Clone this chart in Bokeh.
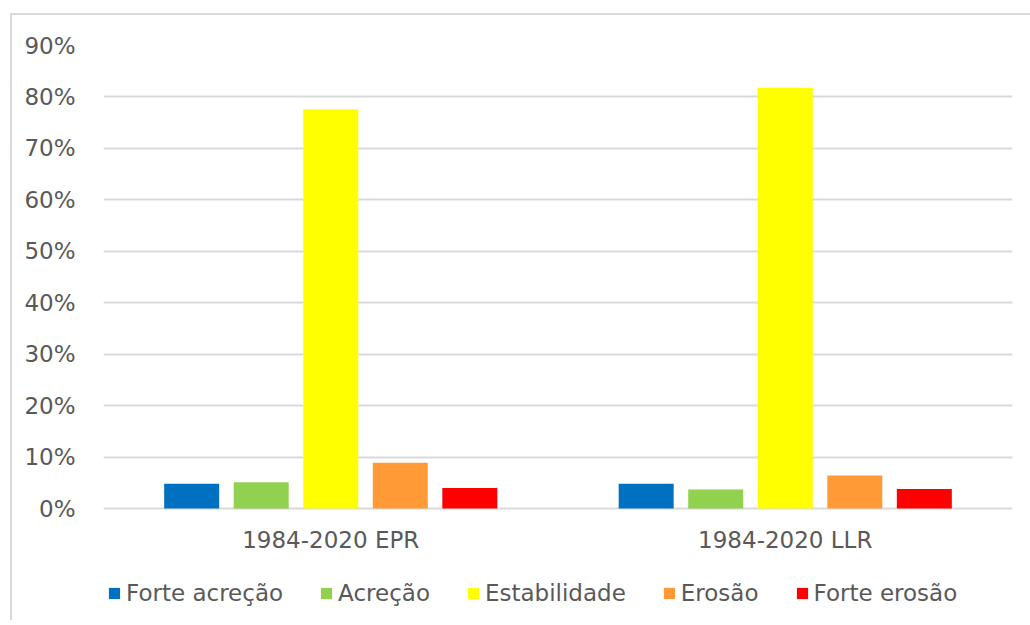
from bokeh.plotting import figure
from bokeh.models import FactorRange, Range1d, NumeralTickFormatter, FixedTicker, ColumnDataSource, Legend
from bokeh.transform import dodge
from bokeh.embed import file_html
from bokeh.resources import INLINE

categories = ["1984-2020 EPR", "1984-2020 LLR"]
series_names = ["Forte acreção", "Acreção", "Estabilidade", "Erosão", "Forte erosão"]
forte_acrecao = [0.048, 0.048]
acrecao = [0.051, 0.037]
estabilidade = [0.776, 0.818]
erosao = [0.089, 0.064]
forte_erosao = [0.040, 0.038]
y_ticks = [0.0, 0.1, 0.2, 0.3, 0.4, 0.5, 0.6, 0.7, 0.8, 0.9]

colors = ["#0070C0", "#92D050", "#FFFF00", "#FF9A36", "#FF0000"]
offsets = [-0.306, -0.153, 0.0, 0.153, 0.306]
bar_width = 0.121

src = ColumnDataSource(dict(cat=categories, s0=forte_acrecao, s1=acrecao, s2=estabilidade,
                            s3=erosao, s4=forte_erosao))

FONT = "DejaVu Sans"
TXT = "#595959"

# frame extends below 0 to hold the category labels and legend
p = figure(x_range=FactorRange(*categories, range_padding=0), y_range=Range1d(-0.2177, 0.9),
           frame_width=909, frame_height=575, min_border_left=91, min_border_top=30,
           min_border_right=18, min_border_bottom=0,
           output_backend="svg", toolbar_location=None, tools="")
p.styles = {"border-left": "2px solid #d9d9d9", "border-top": "2px solid #d9d9d9",
            "margin-left": "10px", "margin-top": "13px"}
p.outline_line_color = None
p.background_fill_color = "white"
p.border_fill_color = "white"

renderers = []
for i, (name, col) in enumerate(zip(series_names, colors)):
    r = p.vbar(x=dodge("cat", offsets[i], range=p.x_range), top=f"s{i}", width=bar_width,
               source=src, fill_color=col, line_color=None)
    renderers.append((name, [r]))

p.yaxis.ticker = FixedTicker(ticks=y_ticks)
p.yaxis.formatter = NumeralTickFormatter(format="0%")
for ax in (p.xaxis[0], p.yaxis[0]):
    ax.axis_line_color = None
    ax.major_tick_line_color = None
    ax.minor_tick_line_color = None
    ax.major_label_text_font = FONT
    ax.major_label_text_font_size = "23px"
    ax.major_label_text_color = TXT
p.yaxis.major_label_standoff = 22
p.xaxis.fixed_location = 0
p.xaxis.major_label_standoff = 12

p.xgrid.grid_line_color = None
p.ygrid.grid_line_color = "#d9d9d9"
p.ygrid.grid_line_width = 2
p.ygrid.ticker = FixedTicker(ticks=y_ticks)

legend = Legend(items=renderers, orientation="horizontal", location=(4, 14))
legend.label_text_font = FONT
legend.label_text_font_size = "23px"
legend.label_text_color = TXT
legend.glyph_width = 14
legend.glyph_height = 14
legend.label_height = 20
legend.label_standoff = 5
legend.spacing = 36
legend.margin = 0
legend.padding = 4
legend.border_line_color = None
legend.background_fill_alpha = 0
p.add_layout(legend, "center")

open("out.html", "w").write(file_html(p, INLINE))
